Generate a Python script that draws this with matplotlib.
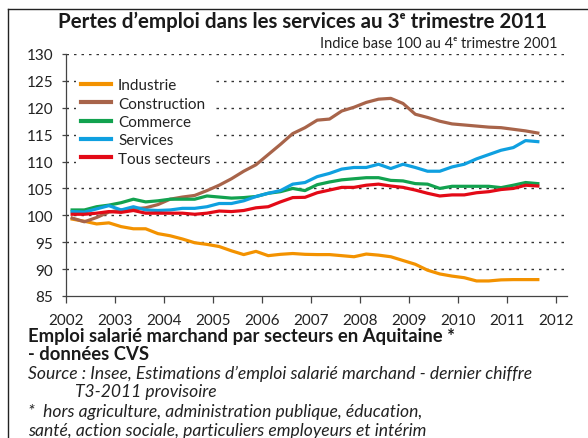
import matplotlib
matplotlib.use("Agg")
import matplotlib.pyplot as plt
from matplotlib.lines import Line2D

plt.rcParams['font.family'] = ['Lato', 'DejaVu Sans']

# Quarterly data 2002T1 .. 2011T3 (index base 100 at 2001T4)
quarters = [2002.125 + 0.25 * i for i in range(39)]

industrie = [99.3, 98.9, 98.4, 98.6, 97.9, 97.5, 97.5, 96.6, 96.2, 95.6,
             94.9, 94.6, 94.2, 93.4, 92.7, 93.3, 92.5, 92.75, 92.9, 92.75,
             92.7, 92.7, 92.5, 92.3, 92.8, 92.6, 92.3, 91.6, 90.9, 89.8,
             89.1, 88.7, 88.4, 87.8, 87.8, 88.0, 88.05, 88.05, 88.05]
construction = [99.5, 98.8, 99.6, 100.6, 101.0, 101.2, 101.4, 102.0, 103.0, 103.4,
                103.7, 104.6, 105.6, 106.8, 108.2, 109.4, 111.3, 113.2, 115.2, 116.3,
                117.7, 117.9, 119.4, 120.1, 121.0, 121.6, 121.75, 120.8, 118.8, 118.2,
                117.5, 117.0, 116.8, 116.6, 116.4, 116.3, 116.0, 115.7, 115.3]
commerce = [101.0, 101.0, 101.6, 101.9, 102.35, 103.0, 102.5, 102.7, 103.0, 103.0,
            103.0, 103.6, 103.4, 103.2, 103.3, 103.5, 104.1, 104.4, 105.0, 104.6,
            105.7, 106.2, 106.6, 106.8, 107.0, 107.0, 106.5, 106.4, 105.9, 105.8,
            105.0, 105.4, 105.4, 105.4, 105.4, 105.15, 105.6, 106.1, 105.9]
services = [100.7, 100.6, 101.2, 101.8, 101.0, 101.6, 101.0, 100.9, 101.0, 101.3,
            101.3, 101.6, 102.2, 102.2, 102.7, 103.5, 104.1, 104.6, 105.8, 106.1,
            107.2, 107.8, 108.6, 108.9, 108.9, 109.5, 108.7, 109.5, 108.9, 108.2,
            108.2, 109.0, 109.5, 110.5, 111.3, 112.1, 112.6, 113.9, 113.7]
tous = [100.2, 100.2, 100.4, 100.7, 100.55, 100.9, 100.4, 100.4, 100.4, 100.4,
        100.2, 100.4, 100.8, 100.7, 100.9, 101.4, 101.6, 102.5, 103.3, 103.35,
        104.2, 104.7, 105.2, 105.2, 105.6, 105.8, 105.45, 105.2, 104.7, 104.1,
        103.6, 103.8, 103.8, 104.2, 104.4, 104.8, 105.0, 105.6, 105.45]

series_names = ["Industrie", "Construction", "Commerce", "Services", "Tous secteurs"]
series_values = [industrie, construction, commerce, services, tous]
series_colors = ["#F39200", "#A8644A", "#12A24F", "#0FA0E0", "#E30A17"]

year_ticks = list(range(2002, 2013))
y_ticks = list(range(85, 131, 5))

fig = plt.figure(figsize=(5.88, 4.39), dpi=100)
ax = fig.add_axes([66/588, 1-297/439, (567-66)/588, (297-55)/439])

for yv in y_ticks[1:]:
    ax.axhline(yv, color="#333333", lw=1.0, linestyle=(0, (1.8, 3.6)), zorder=1)

handles = []
for name, vals, col in zip(series_names, series_values, series_colors):
    ax.plot(quarters, vals, color=col, lw=2.3, solid_joinstyle='round', zorder=3)
    handles.append(Line2D([], [], color=col, lw=3.0))

ax.set_xlim(2002, 2012.22)
ax.set_ylim(85, 130)
ax.set_xticks(year_ticks)
ax.set_yticks(y_ticks)
ax.set_xticklabels([str(y) for y in year_ticks])
for s in ["top", "right"]:
    ax.spines[s].set_visible(False)
for s in ["left", "bottom"]:
    ax.spines[s].set_color("#444444")
    ax.spines[s].set_linewidth(0.9)
ax.tick_params(axis="y", length=3, width=0.9, color="#444444", labelsize=11, pad=6, labelcolor="#222222")
ax.tick_params(axis="x", length=5, width=0.9, color="#444444", labelsize=11, pad=7, labelcolor="#222222")

leg = ax.legend(handles, series_names, loc="upper left", bbox_to_anchor=(0.02, 0.918),
                frameon=True, fontsize=11, handlelength=2.0, handletextpad=0.45,
                labelspacing=0.28, borderpad=0.3, borderaxespad=0.0)
leg.get_frame().set_facecolor("white")
leg.get_frame().set_edgecolor("none")
leg.get_frame().set_alpha(1.0)
leg.set_zorder(2)
for t in leg.get_texts():
    t.set_color("#222222")

# Frame lines of the document
fig.add_artist(Line2D([8/588, 8/588], [0, 1-10/439], color="#222222", lw=1.0, transform=fig.transFigure))
fig.add_artist(Line2D([8/588, 1], [1-10/439, 1-10/439], color="#222222", lw=1.0, transform=fig.transFigure))

fig.text(302/588, 1-22/439, "Pertes d’emploi dans les services au 3ᵉ trimestre 2011",
         ha="center", va="center", fontsize=14.8, fontweight="bold", color="#1a1a1a")
fig.text(558/588, 1-44/439, "Indice base 100 au 4ᵉ trimestre 2001",
         ha="right", va="center", fontsize=10.5, color="#222222")

fig.text(28/588, 1-337/439, "Emploi salarié marchand par secteurs en Aquitaine *",
         ha="left", va="center", fontsize=13.3, fontweight="bold", color="#1a1a1a")
fig.text(28/588, 1-355/439, "- données CVS",
         ha="left", va="center", fontsize=13.3, fontweight="bold", color="#1a1a1a")
fig.text(28/588, 1-374/439, "Source : Insee, Estimations d’emploi salarié marchand - dernier chiffre",
         ha="left", va="center", fontsize=12.6, style="italic", color="#222222")
fig.text(75/588, 1-392/439, "T3-2011 provisoire",
         ha="left", va="center", fontsize=12.6, style="italic", color="#222222")
fig.text(28/588, 1-412/439, "*  hors agriculture, administration publique, éducation,",
         ha="left", va="center", fontsize=12.6, style="italic", color="#222222")
fig.text(28/588, 1-431/439, "santé, action sociale, particuliers employeurs et intérim",
         ha="left", va="center", fontsize=12.6, style="italic", color="#222222")

fig.savefig("out.png", dpi=100)
